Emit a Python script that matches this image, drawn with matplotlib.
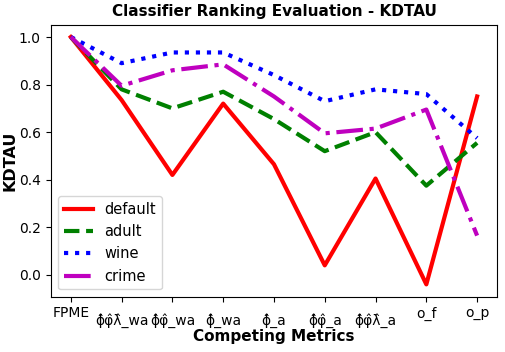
import numpy as np
import matplotlib.transforms as mtransforms
from matplotlib import pyplot as plt

metrics = ['FPME', 'ϕ̂φ̂λ̂_wa', 'ϕ̂φ̂_wa', 'ϕ̂_wa', 'ϕ̂_a', 'ϕ̂φ̂_a', 'ϕ̂φ̂λ̂_a', 'o_f', 'o_p']

default = [1.0, 0.735, 0.42, 0.72, 0.465, 0.04, 0.405, -0.04, 0.75]
adult = [1.0, 0.78, 0.70, 0.77, 0.655, 0.52, 0.60, 0.375, 0.555]
wine = [1.0, 0.89, 0.935, 0.935, 0.84, 0.73, 0.78, 0.76, 0.575]
crime = [1.0, 0.795, 0.86, 0.885, 0.75, 0.595, 0.615, 0.695, 0.165]

fig, ax = plt.subplots(figsize=(5.05, 3.52), dpi=100)
x = np.arange(len(metrics))
ax.plot(x, default, color='red', linestyle='-', linewidth=3, label='default')
ax.plot(x, adult, color='green', linestyle='--', linewidth=3, label='adult')
ax.plot(x, wine, color='blue', linestyle=':', linewidth=3, label='wine')
ax.plot(x, crime, color='m', linestyle='-.', linewidth=3, label='crime')

ax.set_xticks(x)
ax.set_xticklabels(metrics, fontsize=10)
# labels with hats sit lower, like the original rendering
for lbl in ax.get_xticklabels():
    if '\u0302' in lbl.get_text():
        lbl.set_transform(lbl.get_transform() + mtransforms.ScaledTranslation(0, -5 / 72, fig.dpi_scale_trans))
ax.tick_params(axis='y', labelsize=10)
ax.set_title('Classifier Ranking Evaluation - KDTAU', fontsize=11, fontweight='bold')
ax.set_xlabel('Competing Metrics', fontsize=11, fontweight='bold', labelpad=1)
ax.set_ylabel('KDTAU', fontsize=11.5, fontweight='bold', labelpad=1)
ax.legend(loc='lower left', fontsize=10.5)

plt.subplots_adjust(left=0.1, right=0.985, top=0.93, bottom=0.157)
plt.savefig('out.png')
